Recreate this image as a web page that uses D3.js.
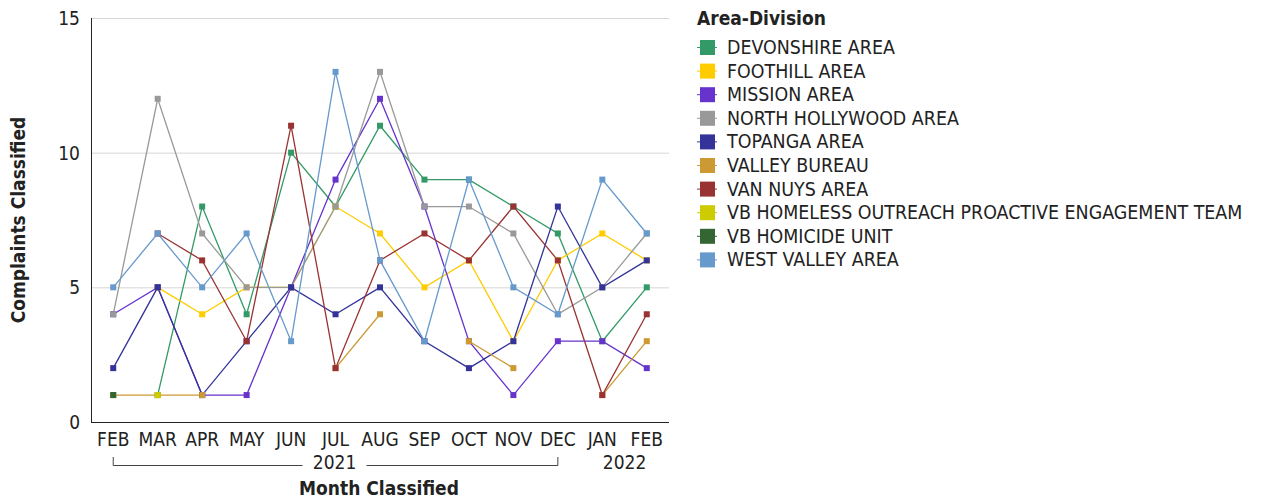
<!DOCTYPE html>
<html>
<head>
<meta charset="utf-8">
<script src="https://cdn.jsdelivr.net/npm/d3@7"></script>
<style>
  body { margin: 0; background: #fff; }
  svg { font-family: "DejaVu Sans Condensed", "DejaVu Sans", sans-serif; }
</style>
</head>
<body>
<div id="chart"></div>
<script>
var months = ["FEB","MAR","APR","MAY","JUN","JUL","AUG","SEP","OCT","NOV","DEC","JAN","FEB"];
var monthKeys = d3.range(months.length);
var yTicks = [0, 5, 10, 15];

var names = ["DEVONSHIRE AREA","FOOTHILL AREA","MISSION AREA","NORTH HOLLYWOOD AREA","TOPANGA AREA",
  "VALLEY BUREAU","VAN NUYS AREA","VB HOMELESS OUTREACH PROACTIVE ENGAGEMENT TEAM","VB HOMICIDE UNIT","WEST VALLEY AREA"];
var colors = ["#339966","#ffcc00","#6633cc","#999999","#333399","#cc9933","#993333","#cccc00","#336633","#6699cc"];

var devonshire   = [null, 1, 8, 4, 10, 8, 11, 9, 9, 8, 7, 3, 5];
var foothill     = [null, 5, 4, 5, 5, 8, 7, 5, 6, 3, 6, 7, 6];
var mission      = [4, 5, 1, 1, 5, 9, 12, 8, 3, 1, 3, 3, 2];
var northHolly   = [4, 12, 7, 5, 5, 8, 13, 8, 8, 7, 4, 5, 7];
var topanga      = [2, 5, 1, 3, 5, 4, 5, 3, 2, 3, 8, 5, 6];
var valleyBureau = [1, 1, 1, null, null, 2, 4, null, 3, 2, null, 1, 3];
var vanNuys      = [null, 7, 6, 3, 11, 2, 6, 7, 6, 8, 6, 1, 4];
var vbHomeless   = [null, 1, null, null, null, null, null, null, null, null, null, null, null];
var vbHomicide   = [1, null, null, null, null, null, null, null, null, null, null, null, null];
var westValley   = [5, 7, 5, 7, 3, 13, 6, 3, 9, 5, 4, 9, 7];

var series = [devonshire, foothill, mission, northHolly, topanga, valleyBureau, vanNuys, vbHomeless, vbHomicide, westValley];

var fs = 19;

var svg = d3.select("#chart").append("svg")
  .attr("width", 1264)
  .attr("height", 500);

var x = d3.scalePoint().domain(monthKeys).range([91, 669]).padding(0.5);
var y = d3.scaleLinear().domain([0, 15]).range([422, 18]);

// grid
svg.append("g").selectAll("line")
  .data(yTicks.filter(function(d){ return d > 0; }))
  .enter().append("line")
  .attr("x1", 91).attr("x2", 669)
  .attr("y1", function(d){ return y(d) + 0.5; })
  .attr("y2", function(d){ return y(d) + 0.5; })
  .attr("stroke", "#d6d6d6")
  .attr("stroke-width", 1);

// y labels
svg.append("g").selectAll("text")
  .data(yTicks)
  .enter().append("text")
  .attr("x", 80)
  .attr("y", function(d){ return y(d) + 7; })
  .attr("text-anchor", "end")
  .attr("font-size", fs)
  .attr("fill", "#222")
  .text(function(d){ return d; });

// axis lines
svg.append("line").attr("x1", 91.5).attr("x2", 91.5).attr("y1", 18).attr("y2", 422)
  .attr("stroke", "#222").attr("stroke-width", 1);
svg.append("line").attr("x1", 91).attr("x2", 669).attr("y1", 422.5).attr("y2", 422.5)
  .attr("stroke", "#222").attr("stroke-width", 1);

// month labels
svg.append("g").selectAll("text")
  .data(monthKeys)
  .enter().append("text")
  .attr("x", function(d){ return x(d); })
  .attr("y", 446)
  .attr("text-anchor", "middle")
  .attr("font-size", fs)
  .attr("fill", "#222")
  .text(function(d){ return months[d]; });

// year row
var yr = svg.append("g").attr("stroke", "#444").attr("stroke-width", 1).attr("fill", "none");
var x21a = x(0), x21b = x(10), mid21 = (x21a + x21b) / 2;
yr.append("path").attr("d", "M" + x21a + ",457V465.5H" + (mid21 - 33));
yr.append("path").attr("d", "M" + (mid21 + 31) + ",465.5H" + x21b + "V457");
svg.append("text").attr("x", mid21 - 1).attr("y", 469).attr("text-anchor", "middle")
  .attr("font-size", fs).attr("fill", "#222").text("2021");
svg.append("text").attr("x", (x(11) + x(12)) / 2).attr("y", 469).attr("text-anchor", "middle")
  .attr("font-size", fs).attr("fill", "#222").text("2022");

// axis titles
svg.append("text").attr("x", 379).attr("y", 495).attr("text-anchor", "middle")
  .attr("font-size", fs).attr("font-weight", "bold").attr("fill", "#222").text("Month Classified");
svg.append("text").attr("transform", "translate(25,220) rotate(-90)").attr("text-anchor", "middle")
  .attr("font-size", fs).attr("font-weight", "bold").attr("fill", "#222").text("Complaints Classified");

// lines
var line = d3.line()
  .defined(function(d){ return d != null; })
  .x(function(d, i){ return x(i); })
  .y(function(d){ return y(d); });

series.forEach(function(s, k){
  svg.append("path")
    .datum(s)
    .attr("d", line)
    .attr("fill", "none")
    .attr("stroke", colors[k])
    .attr("stroke-width", 1.3);
});

series.forEach(function(s, k){
  svg.append("g").selectAll("rect")
    .data(s.map(function(v, i){ return {v: v, i: i}; }).filter(function(d){ return d.v != null; }))
    .enter().append("rect")
    .attr("x", function(d){ return x(d.i) - 3; })
    .attr("y", function(d){ return y(d.v) - 3; })
    .attr("width", 6).attr("height", 6)
    .attr("fill", colors[k]);
});

// legend
var lg = svg.append("g").attr("transform", "translate(697,0)");
lg.append("text").attr("x", 0).attr("y", 25).attr("font-size", fs).attr("font-weight", "bold")
  .attr("fill", "#222").text("Area-Division");
var item = lg.selectAll(".item").data(names).enter().append("g")
  .attr("class", "item")
  .attr("transform", function(d, i){ return "translate(0," + (47 + i * 23.6) + ")"; });
item.append("line").attr("x1", 0).attr("x2", 20).attr("y1", 0.5).attr("y2", 0.5)
  .attr("stroke", function(d, i){ return colors[i]; }).attr("stroke-width", 1);
item.append("rect").attr("x", 3).attr("y", -7).attr("width", 15).attr("height", 15)
  .attr("fill", function(d, i){ return colors[i]; });
item.append("text").attr("x", 30).attr("y", 7).attr("font-size", 19.4).attr("fill", "#222")
  .text(function(d){ return d; });
</script>
</body>
</html>
